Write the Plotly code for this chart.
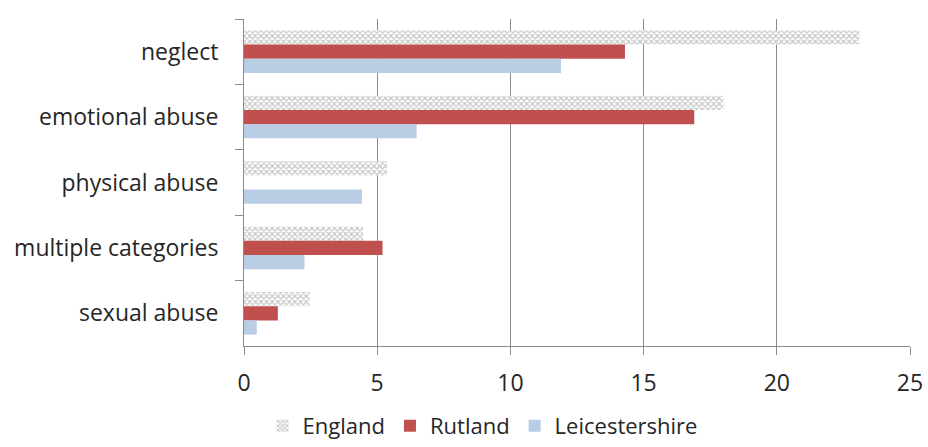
import plotly.graph_objects as go

categories = ["neglect", "emotional abuse", "physical abuse", "multiple categories", "sexual abuse"]
england = [23.1, 18.0, 5.37, 4.47, 2.47]
rutland = [14.3, 16.9, 0, 5.2, 1.27]
leicestershire = [11.9, 6.48, 4.43, 2.27, 0.48]
x_ticks = [0, 5, 10, 15, 20, 25]

FONT = "Open Sans"
TXT = "#262626"
GRID = "#8c8c8c"
FS = 23

fig = go.Figure()
fig.add_trace(go.Bar(
    name="England", y=categories, x=england, orientation="h",
    marker=dict(color="white", line=dict(width=0),
                pattern=dict(shape="x", size=4, solidity=0.5,
                             fgcolor="#8c8c8c", bgcolor="#ffffff")),
))
fig.add_trace(go.Bar(
    name="Rutland", y=categories, x=rutland, orientation="h",
    marker=dict(color="#C0504D", line=dict(width=0)),
))
fig.add_trace(go.Bar(
    name="Leicestershire", y=categories, x=leicestershire, orientation="h",
    marker=dict(color="#B9CDE5", line=dict(width=0)),
))

fig.update_layout(
    width=928, height=447,
    margin=dict(l=244, r=18, t=19, b=101),
    paper_bgcolor="white", plot_bgcolor="white",
    barmode="group", bargap=0.35, bargroupgap=0,
    font=dict(family=FONT, size=FS, color=TXT),
    showlegend=True,
    legend=dict(orientation="h", xref="container", x=0.52, xanchor="center",
                yref="container", y=0.0, yanchor="bottom",
                font=dict(family=FONT, size=22, color=TXT), itemsizing="constant",
                traceorder="normal"),
    xaxis=dict(range=[0, 25], tickvals=x_ticks, ticktext=[str(v) for v in x_ticks],
               showgrid=True, gridcolor=GRID, gridwidth=1,
               showline=True, linecolor=GRID, linewidth=1,
               ticks="outside", ticklen=8, tickcolor=GRID, zeroline=False,
               ticklabelstandoff=8, automargin=False,
               tickfont=dict(family=FONT, size=FS, color=TXT), fixedrange=True),
    yaxis=dict(categoryorder="array", categoryarray=categories, autorange="reversed",
               showline=True, linecolor=GRID, linewidth=1,
               ticks="outside", ticklen=8, tickcolor=GRID, tickson="boundaries",
               showgrid=False, ticklabelstandoff=20, automargin=False,
               tickfont=dict(family=FONT, size=FS, color=TXT)),
)

fig.write_html("out.html", config={"displayModeBar": False},
               post_script="document.body.style.margin='0';document.body.style.overflow='hidden';")
